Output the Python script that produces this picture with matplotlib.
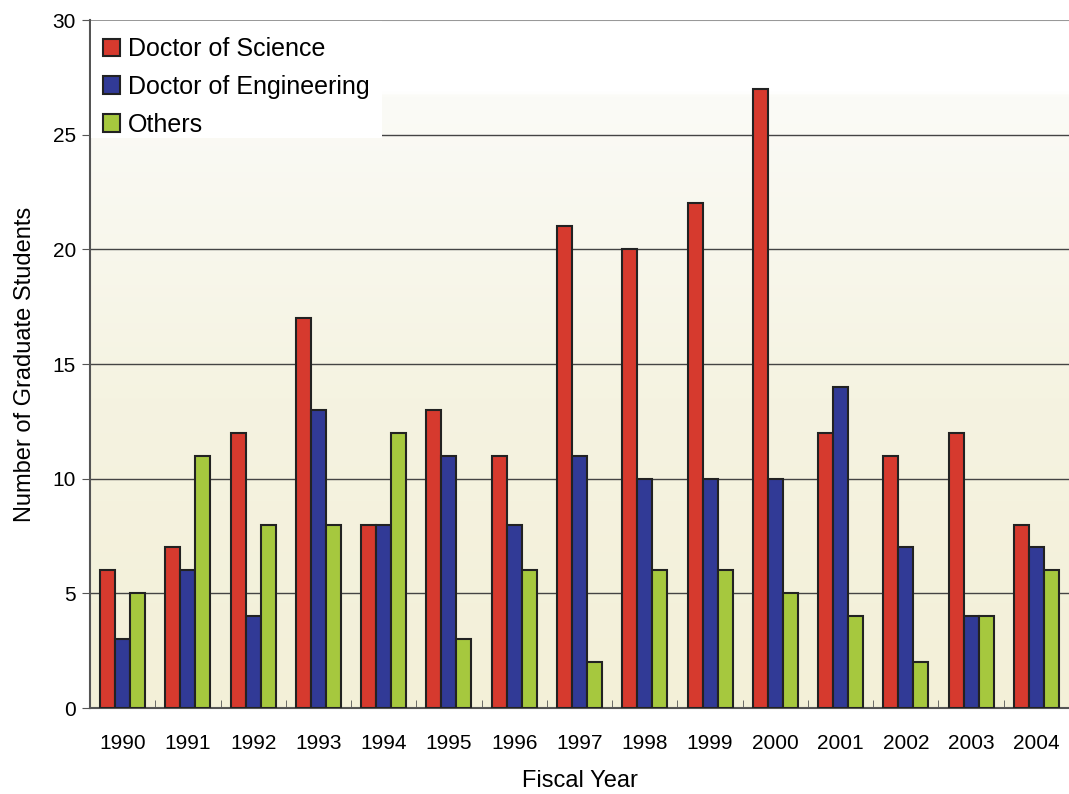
import numpy as np
import matplotlib.pyplot as plt
from matplotlib.colors import LinearSegmentedColormap
from matplotlib.patches import Rectangle

# Data
years = ['1990', '1991', '1992', '1993', '1994', '1995', '1996', '1997',
         '1998', '1999', '2000', '2001', '2002', '2003', '2004']
doctor_science = [6, 7, 12, 17, 8, 13, 11, 21, 20, 22, 27, 12, 11, 12, 8]
doctor_engineering = [3, 6, 4, 13, 8, 11, 8, 11, 10, 10, 10, 14, 7, 4, 7]
others = [5, 11, 8, 8, 12, 3, 6, 2, 6, 6, 5, 4, 2, 4, 6]

plt.rcParams['font.family'] = ['Liberation Sans', 'DejaVu Sans']

fig = plt.figure(figsize=(10.69, 7.94), dpi=100)
ax = fig.add_axes([0.0842, 0.1083, 0.9158, 0.8665])

n = len(years)
x = np.arange(n)
w = 0.23

# Background gradient: white at top, pale cream toward the bottom
cmap = LinearSegmentedColormap.from_list(
    'bg', [(0.0, '#F3F0D8'), (0.45, '#F5F3E1'), (0.89, '#FBFBF7'),
           (0.895, '#FFFFFF'), (1.0, '#FFFFFF')])
grad = np.linspace(0, 1, 512).reshape(-1, 1)
ax.imshow(grad, extent=[-0.5, n - 0.5, 0, 30], origin='lower', aspect='auto',
          cmap=cmap, zorder=0, interpolation='bilinear')

# Gridlines
for v in [5, 10, 15, 20, 25]:
    ax.axhline(v, color='#444444', lw=1.0, zorder=1)
ax.axhline(30, color='#999999', lw=1.5, zorder=1)

kw = dict(width=w, edgecolor='#222222', linewidth=1.5, zorder=3)
ax.bar(x - w, doctor_science, color='#D63A2E', label='Doctor of Science', **kw)
ax.bar(x, doctor_engineering, color='#313A96', label='Doctor of Engineering', **kw)
ax.bar(x + w, others, color='#A6C83E', label='Others', **kw)

ax.set_xlim(-0.5, n - 0.5)
ax.set_ylim(0, 30)

ax.set_xticks(x)
ax.set_xticklabels(years, fontsize=15)
ax.set_xticks(np.arange(0.5, n - 0.5), minor=True)
ax.tick_params(axis='x', which='major', length=0, pad=19)
ax.tick_params(axis='x', which='minor', direction='in', length=6, color='#555555')

ax.set_yticks([0, 5, 10, 15, 20, 25, 30])
ax.tick_params(axis='y', labelsize=15, length=6, color='#555555', pad=4)

for s in ['top', 'right']:
    ax.spines[s].set_visible(False)
ax.spines['left'].set_color('#555555')
ax.spines['left'].set_linewidth(1.5)
ax.spines['bottom'].set_color('#555555')
ax.spines['bottom'].set_linewidth(1.5)

ax.set_xlabel('Fiscal Year', fontsize=17, labelpad=12)
ax.set_ylabel('Number of Graduate Students', fontsize=17, labelpad=12)

# White box behind the legend, covering the grid
ax.add_patch(Rectangle((0.0015, 0.828), 0.297, 0.171, transform=ax.transAxes,
                       facecolor='white', edgecolor='none', zorder=4))

leg = ax.legend(loc='upper left', bbox_to_anchor=(0.013, 0.9753), fontsize=18,
                frameon=False, borderaxespad=0, borderpad=0,
                handlelength=0.7, handleheight=0.7,
                handletextpad=0.3, labelspacing=0.55)
leg.set_zorder(5)

fig.savefig('out.png', dpi=100)
